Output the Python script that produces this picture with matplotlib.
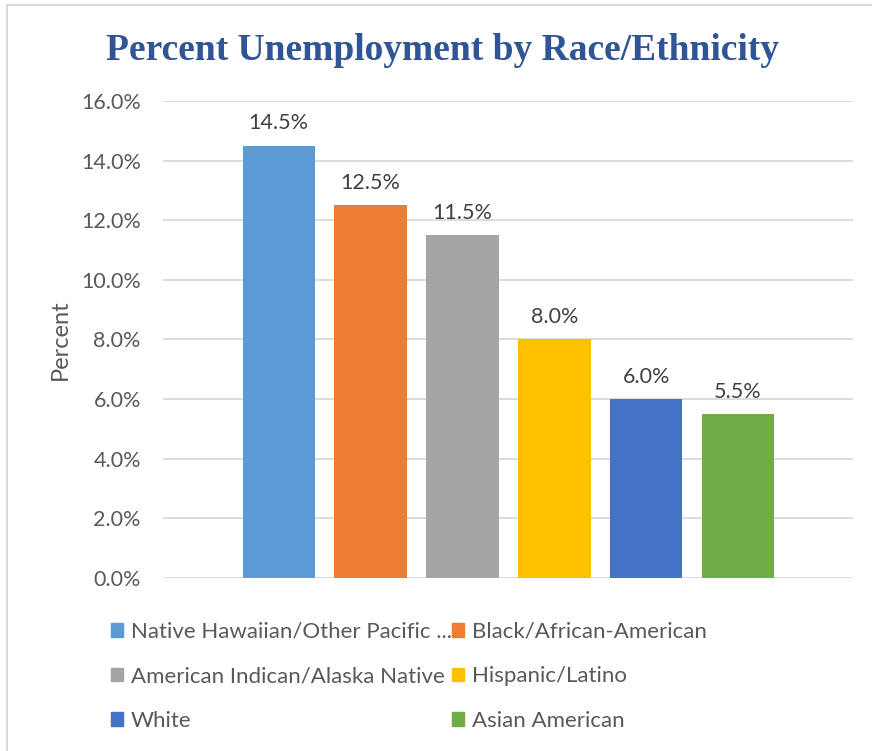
import matplotlib
matplotlib.use("Agg")
import matplotlib.pyplot as plt
from matplotlib.patches import Patch
from matplotlib.lines import Line2D
from matplotlib.ticker import FuncFormatter

# unemployment rate by group, percent
groups = ['Native Hawaiian/Other Pacific ...', 'Black/African-American',
          'American Indican/Alaska Native', 'Hispanic/Latino',
          'White', 'Asian American']
rates = [14.5, 12.5, 11.5, 8.0, 6.0, 5.5]
colors = ['#5B9BD5', '#ED7D31', '#A5A5A5', '#FFC000', '#4472C4', '#70AD47']
yticks = [0, 2, 4, 6, 8, 10, 12, 14, 16]

txt = '#595959'
plt.rcParams['font.family'] = ['Lato', 'DejaVu Sans']

fig = plt.figure(figsize=(8.72, 7.51), dpi=100)
ax = fig.add_axes([0.187, 0.2304, 0.791, 0.6351])

x = range(len(rates))
bars = ax.bar(x, rates, width=0.79, color=colors, zorder=3)
ax.bar_label(bars, labels=['%.1f%%' % r for r in rates], padding=9,
             fontsize=15.5, color='#404040')

ax.set_xlim(-1.26, 6.25)
ax.set_ylim(0, 16)
ax.set_yticks(yticks)
ax.yaxis.set_major_formatter(FuncFormatter(lambda v, p: '%.1f%%' % v))
ax.tick_params(axis='y', length=0, pad=16, labelsize=15.5, labelcolor=txt)
ax.set_xticks([])
ax.grid(axis='y', color='#D9D9D9', lw=1.3, zorder=0)
for s in ax.spines.values():
    s.set_visible(False)
ax.set_ylabel('Percent', fontsize=17, color=txt, labelpad=7)

fig.text(0.508, 0.933, 'Percent Unemployment by Race/Ethnicity',
         ha='center', va='center', fontsize=27, fontweight='bold',
         family='Liberation Serif', color='#2F5597')

# legend filled row by row
order = [0, 2, 4, 1, 3, 5]
handles = [Patch(color=colors[i], label=groups[i]) for i in order]
fig.legend(handles=handles, ncol=2, loc='upper left',
           bbox_to_anchor=(0.127, 0.172), frameon=False, fontsize=16,
           labelcolor=txt, handlelength=0.55, handleheight=0.55,
           handletextpad=0.35, columnspacing=0.0, labelspacing=1.1,
           borderpad=0, borderaxespad=0)

# outer frame
fig.add_artist(Line2D([0.008, 1], [0.9933, 0.9933], color='#D9D9D9', lw=1.5))
fig.add_artist(Line2D([0.008, 0.008], [0, 0.9933], color='#D9D9D9', lw=1.5))

fig.savefig('out.png', dpi=100)
